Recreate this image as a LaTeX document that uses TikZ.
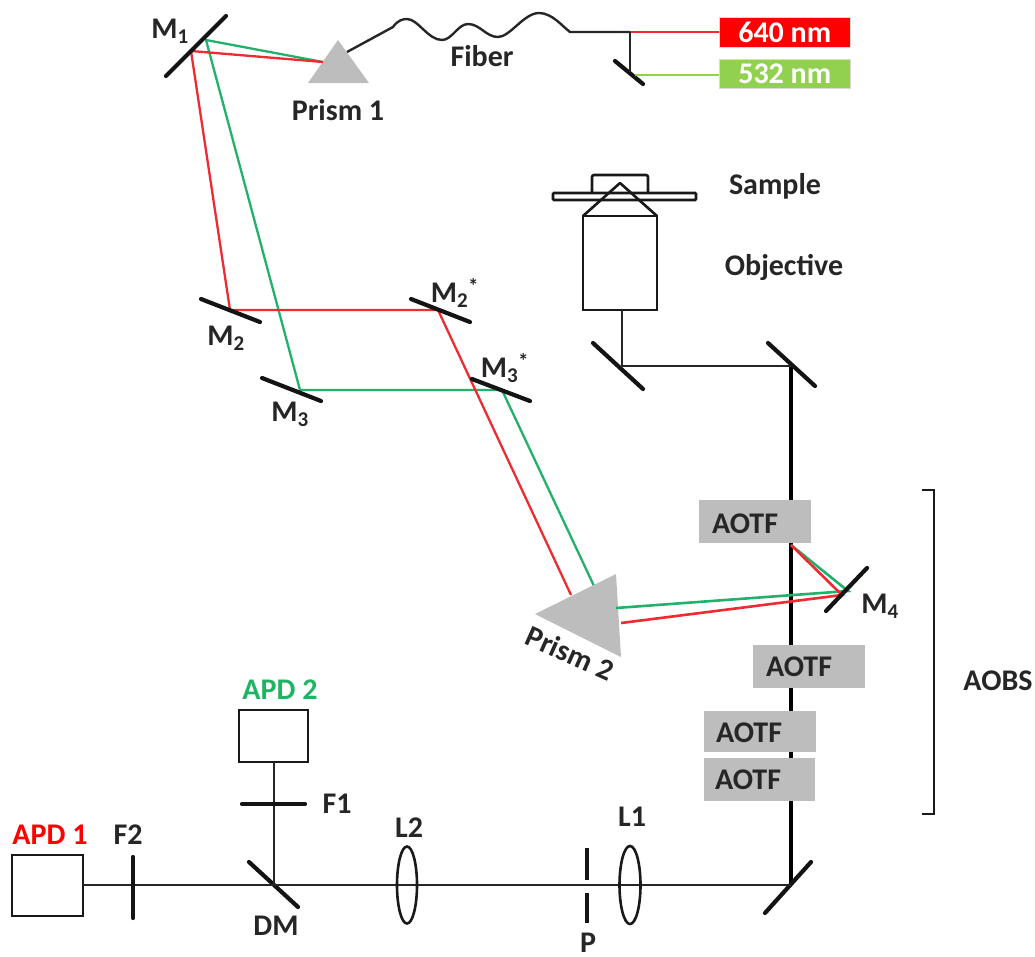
\documentclass[tikz,border=0pt]{standalone}
\usepackage{fontspec}
\setmainfont{Carlito}
\definecolor{beamred}{HTML}{EE2B30}
\definecolor{beamgreen}{HTML}{22B06A}
\definecolor{boxgray}{HTML}{BDBDBD}
\definecolor{lasergreen}{HTML}{92D050}
\definecolor{apdgreen}{HTML}{1FB464}
\tikzset{
 lbl/.style={font=\fontsize{30}{30}\selectfont\bfseries,text=black!85,inner sep=0pt},
 mirror/.style={line width=4.2pt,black!92,line cap=round},
 beamr/.style={line width=2.6pt,beamred},
 beamg/.style={line width=2.6pt,beamgreen},
 wire/.style={line width=2.4pt,black!85,line join=round},
 axis/.style={line width=4.2pt,black},
 outline/.style={draw=black!90,line width=2.6pt},
 aotf/.style={fill=boxgray,draw=none,minimum width=112pt,minimum height=43pt,inner sep=0pt,anchor=north west},
 laser/.style={draw=black!15,line width=.5pt,minimum width=131pt,minimum height=29.5pt,inner sep=0pt,anchor=north west,text=white,font=\fontsize{30}{30}\selectfont\bfseries},
 prism/.style={fill=boxgray,draw=none},
}
\begin{document}
\begin{tikzpicture}[x=1pt,y=-1pt]
\useasboundingbox (0,0) rectangle (1035,956);
% named coordinates
\coordinate (m1a) at (226,16); \coordinate (m1b) at (166,76);
\coordinate (m1g) at (206,40); \coordinate (m1r) at (191,51);
\coordinate (p1in) at (323,62);
\coordinate (m2a) at (201,299); \coordinate (m2b) at (260,322); \coordinate (m2c) at (230,310);
\coordinate (m2sa) at (411,299); \coordinate (m2sb) at (470,322); \coordinate (m2sc) at (438,310);
\coordinate (m3a) at (262,378); \coordinate (m3b) at (321,401); \coordinate (m3c) at (300,390);
\coordinate (m3sa) at (472,379); \coordinate (m3sb) at (530,401); \coordinate (m3sc) at (502,390);
\coordinate (p2g) at (594,586); \coordinate (p2r) at (571,595);
\coordinate (p2go) at (616,608); \coordinate (p2ro) at (621,623);
\coordinate (m4a) at (867,568); \coordinate (m4b) at (826,611);
\coordinate (m4g) at (848,591); \coordinate (m4r) at (842,595);
\coordinate (ao) at (791,545);
\coordinate (top) at (791,366); \coordinate (bot) at (791,885);
\coordinate (obj) at (622,366);
\coordinate (sp) at (630,32); \coordinate (smg) at (635,75);
% prisms
\fill[prism] (338,40) -- (369,83) -- (308,83) -- cycle;
% axis
\draw[axis] (top) -- (bot);
% AOTF
\node[aotf] (a1) at (699,500) {};
\node[aotf] (a2) at (753,645) {};
\node[aotf,minimum height=41pt] (a3) at (704,711) {};
\node[aotf,minimum width=111pt] (a4) at (704,758) {};
\node[lbl] (ta1) at (745,524) {AOTF};
\node[lbl] (ta2) at (799,667) {AOTF};
\node[lbl] (ta3) at (749,733) {AOTF};
\node[lbl] (ta4) at (748,780) {AOTF};
% beams
\draw[beamg,line width=2.3pt] (p1in) -- (m1g) -- (m3c) -- (m3sc) -- (p2g);
\draw[beamr,line width=2.3pt] (p1in) -- (m1r) -- (m2c) -- (m2sc) -- (p2r);
\fill[prism] (535,614) -- (616,574) -- (621,657) -- cycle;
\draw[beamg] (p2go) -- (m4g) -- (ao);
\draw[beamr] (p2ro) -- (m4r) -- (ao);
% mirrors
\draw[mirror] (m1a) -- (m1b);
\draw[mirror] (m2a) -- (m2b);
\draw[mirror] (m2sa) -- (m2sb);
\draw[mirror] (m3a) -- (m3b);
\draw[mirror] (m3sa) -- (m3sb);
\draw[mirror] (m4a) -- (m4b);
\draw[mirror] (593,343) -- (643,389);
\draw[mirror] (768,343) -- (815,386);
\draw[mirror] (765,913) -- (811,862);
\draw[mirror] (249,862) -- (298,907);
\draw[mirror] (615,61) -- (643,84);
% fiber and lasers
\node[laser,fill=red] (l640) at (719,17) {640 nm};
\node[laser,fill=lasergreen] (l532) at (719,58.5) {532 nm};
\draw[wire] (347,52) -- (393,27) .. controls (398,20) and (403,19) .. (407,19)
 .. controls (418,19) and (428,40) .. (442,40)
 .. controls (452,40) and (458,24) .. (468,24)
 .. controls (480,24) and (486,37) .. (498,37)
 .. controls (510,37) and (524,13) .. (539,13)
 .. controls (552,13) and (562,26) .. (570,32) -- (sp);
\draw[beamr,line width=1.8pt] (sp) -- (l640.west |- sp);
\draw[lasergreen,line width=1.8pt] (smg) -- (l532.west |- smg);
\draw[wire] (sp) -- (630,72);
% sample and objective
\draw[outline,rounded corners=2pt] (592,193) -- (592,175) -- (648,175) -- (648,193);
\draw[outline,rounded corners=1pt,fill=white] (553,193) rectangle (696,200);
\draw[outline,fill=white] (583,216) rectangle (657,310);
\draw[outline,line join=round] (583,216) -- (620,183) -- (657,216);
\draw[wire] (622,310) -- (obj) -- (top);
% detection
\draw[outline] (12,855) rectangle (83,916);
\draw[outline] (239,710) rectangle (308,762);
\draw[wire] (83,885) -- (bot);
\draw[wire] (274,885) -- (274,762);
\draw[mirror] (133,857) -- (133,918);
\draw[mirror] (242,804) -- (305,804);
\draw[mirror,line cap=butt] (587,848) -- (587,880);
\draw[mirror,line cap=butt] (587,893) -- (587,923);
\draw[outline] (407,885) ellipse [x radius=10,y radius=38.5];
\draw[outline] (630,885) ellipse [x radius=10.5,y radius=39];
% bracket
\draw[line width=2.8pt,black!90] (922,490) -- (934,490) -- (934,814) -- (922,814);
% labels
\node[lbl] (tm1) at (170,31) {M\textsubscript{1}};
\node[lbl] (tm2) at (226,338) {M\textsubscript{2}};
\node[lbl] (tm2s) at (455,293) {M\textsubscript{2}\textsuperscript{*}};
\node[lbl] (tm3) at (290,414) {M\textsubscript{3}};
\node[lbl] (tm3s) at (505,368) {M\textsubscript{3}\textsuperscript{*}};
\node[lbl] (tm4) at (880,606) {M\textsubscript{4}};
\node[lbl] (tfiber) at (482,56) {Fiber};
\node[lbl] (tp1) at (338,110) {Prism 1};
\node[lbl,rotate=-24] (tp2) at (570,653) {Prism 2};
\node[lbl] (tsample) at (775,186) {Sample};
\node[lbl] (tobj) at (784,267) {Objective};
\node[lbl] (taobs) at (998,681) {AOBS};
\node[lbl,text=apdgreen] (tapd2) at (280,690) {APD 2};
\node[lbl,text=red] (tapd1) at (50,835) {APD 1};
\node[lbl] (tf2) at (128,835) {F2};
\node[lbl] (tf1) at (337,804) {F1};
\node[lbl] (tl2) at (409,828) {L2};
\node[lbl] (tl1) at (632,817) {L1};
\node[lbl] (tdm) at (276,926) {DM};
\node[lbl] (tpin) at (588,943) {P};
\end{tikzpicture}
\end{document}
